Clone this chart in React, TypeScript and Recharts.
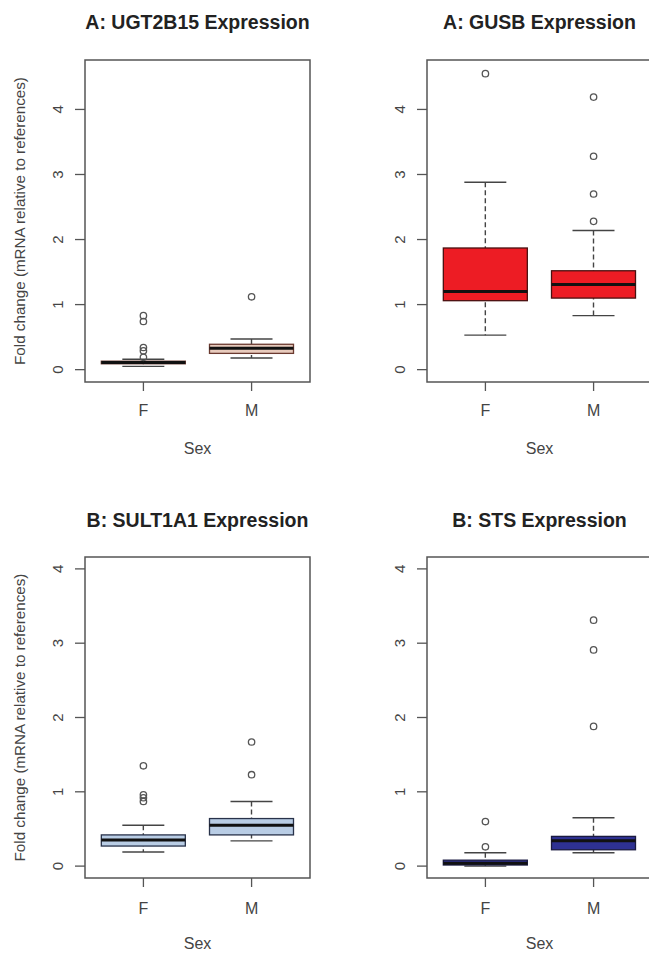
import React from "react";
import { Bar, ComposedChart, ReferenceArea, Scatter, XAxis, YAxis } from "recharts";

const GROUPS = ["F", "M"];

// [lower whisker, Q1, median, Q3, upper whisker]
const UGT2B15_F = [0.05, 0.09, 0.11, 0.13, 0.16];
const UGT2B15_M = [0.18, 0.25, 0.33, 0.39, 0.47];
const UGT2B15_OUT_F = [0.83, 0.74, 0.34, 0.29, 0.19];
const UGT2B15_OUT_M = [1.12];

const GUSB_F = [0.53, 1.06, 1.2, 1.87, 2.88];
const GUSB_M = [0.83, 1.1, 1.31, 1.52, 2.14];
const GUSB_OUT_F = [4.55];
const GUSB_OUT_M = [4.19, 3.28, 2.7, 2.28];

const SULT1A1_F = [0.19, 0.27, 0.35, 0.42, 0.55];
const SULT1A1_M = [0.34, 0.42, 0.55, 0.64, 0.87];
const SULT1A1_OUT_F = [1.35, 0.96, 0.92, 0.87];
const SULT1A1_OUT_M = [1.67, 1.23];

const STS_F = [0.0, 0.015, 0.04, 0.08, 0.18];
const STS_M = [0.18, 0.22, 0.34, 0.4, 0.65];
const STS_OUT_F = [0.6, 0.26];
const STS_OUT_M = [3.31, 2.91, 1.88];

const Y_TICKS = [0, 1, 2, 3, 4];
const X_DOMAIN = [0.46, 2.54];
const FONT = '"Liberation Sans", Arial, sans-serif';
const INK = "#444";

function boxRows(f: number[], m: number[]) {
  return [f, m].map((s, i) => ({ x: i + 1, lo: s[0], q1: s[1], med: s[2], q3: s[3], hi: s[4] }));
}

function outlierRows(f: number[], m: number[]) {
  return [...f.map((y) => ({ x: 1, y })), ...m.map((y) => ({ x: 2, y }))];
}

function Whisker(props: any) {
  const { x, y, width, height } = props;
  const top = Math.min(y, y + height);
  const bottom = Math.max(y, y + height);
  const cx = x + width / 2;
  const cap = width / 4;
  return (
    <g stroke={INK} strokeWidth={1.4}>
      <line x1={cx} x2={cx} y1={top} y2={bottom} strokeDasharray="5 3" />
      <line x1={cx - cap} x2={cx + cap} y1={top} y2={top} />
      <line x1={cx - cap} x2={cx + cap} y1={bottom} y2={bottom} />
    </g>
  );
}

function makeBox(fill: string, stroke: string) {
  return (props: any) => {
    const { x, y, width, height } = props;
    const top = Math.min(y, y + height);
    return (
      <rect x={x} y={top} width={width} height={Math.abs(height)} fill={fill} stroke={stroke} strokeWidth={1.3} />
    );
  };
}

function MedianLine(props: any) {
  const { x, y, width, height } = props;
  const top = Math.min(y, y + height);
  return <line x1={x} x2={x + width} y1={top} y2={top} stroke="#111" strokeWidth={3} />;
}

function Ring(props: any) {
  return <circle cx={props.cx} cy={props.cy} r={3.2} fill="none" stroke="#555" strokeWidth={1.3} />;
}

function YTick(props: any) {
  const { x, y, payload } = props;
  const bx = x - 10;
  return (
    <text
      x={bx}
      y={y}
      transform={`rotate(-90 ${bx} ${y})`}
      textAnchor="middle"
      fontSize={15}
      fontFamily={FONT}
      fill={INK}
    >
      {payload.value}
    </text>
  );
}

interface PanelProps {
  title: string;
  f: number[];
  m: number[];
  outF: number[];
  outM: number[];
  yDomain: number[];
  fill: string;
  stroke: string;
  left: number;
  top: number;
  width: number;
  height: number;
  marginLeft: number;
  marginTop: number;
  marginRight: number;
  plotBottom: number;
  xAxisHeight: number;
  tickMargin: number;
  sexOffset: number;
  titleTop: number;
  showYLabel: boolean;
}

function Panel(p: PanelProps) {
  const rows = boxRows(p.f, p.m);
  const outliers = outlierRows(p.outF, p.outM);
  const marginBottom = p.height - p.plotBottom - p.xAxisHeight;
  const plotLeft = p.marginLeft + 85;
  const plotWidth = p.width - p.marginRight - plotLeft;
  return (
    <div style={{ position: "absolute", left: p.left, top: p.top, width: p.width, height: p.height }}>
      <div
        style={{
          position: "absolute",
          left: plotLeft - 20,
          width: plotWidth + 40,
          top: p.titleTop,
          textAlign: "center",
          fontFamily: FONT,
          fontWeight: "bold",
          fontSize: 19.5,
          lineHeight: "22px",
          color: "#222",
          whiteSpace: "nowrap",
        }}
      >
        {p.title}
      </div>
      <ComposedChart
        width={p.width}
        height={p.height}
        data={rows}
        barSize={84}
        barGap={-84}
        margin={{ top: p.marginTop, left: p.marginLeft, right: p.marginRight, bottom: marginBottom }}
      >
        <XAxis
          type="number"
          dataKey="x"
          domain={X_DOMAIN}
          allowDataOverflow
          ticks={[1, 2]}
          tickFormatter={(v: number) => GROUPS[v - 1]}
          axisLine={false}
          tickLine={{ stroke: "#555", strokeWidth: 1.3 }}
          tickSize={9}
          tickMargin={p.tickMargin}
          tick={{ fontSize: 16, fill: INK, fontFamily: FONT }}
          height={p.xAxisHeight}
          label={{
            content: (lp: any) => {
              const vb = lp.viewBox || {};
              return (
                <text
                  x={vb.x + vb.width / 2}
                  y={vb.y + p.sexOffset}
                  textAnchor="middle"
                  fontSize={16}
                  fontFamily={FONT}
                  fill={INK}
                >
                  Sex
                </text>
              );
            },
          }}
        />
        <YAxis
          type="number"
          domain={p.yDomain}
          allowDataOverflow
          ticks={Y_TICKS}
          width={85}
          axisLine={false}
          tickLine={{ stroke: "#555", strokeWidth: 1.3 }}
          tickSize={10}
          tick={<YTick />}
          label={
            p.showYLabel
              ? {
                  content: (lp: any) => {
                    const vb = lp.viewBox || {};
                    const lx = vb.x + 25;
                    const ly = vb.y + vb.height / 2;
                    return (
                      <text
                        x={lx}
                        y={ly}
                        transform={`rotate(-90 ${lx} ${ly})`}
                        textAnchor="middle"
                        fontSize={15.2}
                        fontFamily={FONT}
                        fill={INK}
                      >
                        Fold change (mRNA relative to references)
                      </text>
                    );
                  },
                }
              : undefined
          }
        />
        <Bar dataKey={(d: any) => [d.lo, d.hi]} shape={<Whisker />} isAnimationActive={false} />
        <Bar dataKey={(d: any) => [d.q1, d.q3]} shape={makeBox(p.fill, p.stroke)} isAnimationActive={false} />
        <Bar dataKey={(d: any) => [d.q1, d.med]} shape={<MedianLine />} isAnimationActive={false} />
        <Scatter data={outliers} dataKey="y" shape={<Ring />} isAnimationActive={false} />
        <ReferenceArea
          x1={X_DOMAIN[0]}
          x2={X_DOMAIN[1]}
          y1={p.yDomain[0]}
          y2={p.yDomain[1]}
          fill="none"
          stroke="#555"
          strokeWidth={1.5}
          ifOverflow="visible"
        />
      </ComposedChart>
    </div>
  );
}

export default function App() {
  const topDomain = [-0.19, 4.76];
  const bottomDomain = [-0.16, 4.16];
  return (
    <div
      style={{
        position: "absolute",
        left: 0,
        top: 0,
        width: 649,
        height: 953,
        overflow: "hidden",
        background: "#fff",
      }}
    >
      <Panel
        title="A: UGT2B15 Expression"
        f={UGT2B15_F}
        m={UGT2B15_M}
        outF={UGT2B15_OUT_F}
        outM={UGT2B15_OUT_M}
        yDomain={topDomain}
        fill="#e8cbbd"
        stroke="#6b3a30"
        left={0}
        top={0}
        width={324}
        height={476}
        marginLeft={0}
        marginTop={60}
        marginRight={14}
        plotBottom={382}
        xAxisHeight={80}
        tickMargin={14}
        sexOffset={71.5}
        titleTop={11}
        showYLabel
      />
      <Panel
        title="A: GUSB Expression"
        f={GUSB_F}
        m={GUSB_M}
        outF={GUSB_OUT_F}
        outM={GUSB_OUT_M}
        yDomain={topDomain}
        fill="#ed1c24"
        stroke="#4a1010"
        left={324}
        top={0}
        width={330}
        height={476}
        marginLeft={18}
        marginTop={60}
        marginRight={2}
        plotBottom={382}
        xAxisHeight={80}
        tickMargin={14}
        sexOffset={71.5}
        titleTop={11}
        showYLabel={false}
      />
      <Panel
        title="B: SULT1A1 Expression"
        f={SULT1A1_F}
        m={SULT1A1_M}
        outF={SULT1A1_OUT_F}
        outM={SULT1A1_OUT_M}
        yDomain={bottomDomain}
        fill="#b9cde5"
        stroke="#28324a"
        left={0}
        top={476}
        width={324}
        height={477}
        marginLeft={0}
        marginTop={81}
        marginRight={14}
        plotBottom={402}
        xAxisHeight={75}
        tickMargin={16}
        sexOffset={71}
        titleTop={33}
        showYLabel
      />
      <Panel
        title="B: STS Expression"
        f={STS_F}
        m={STS_M}
        outF={STS_OUT_F}
        outM={STS_OUT_M}
        yDomain={bottomDomain}
        fill="#2e3192"
        stroke="#1a1a40"
        left={324}
        top={476}
        width={330}
        height={477}
        marginLeft={18}
        marginTop={81}
        marginRight={2}
        plotBottom={402}
        xAxisHeight={75}
        tickMargin={16}
        sexOffset={71}
        titleTop={33}
        showYLabel={false}
      />
    </div>
  );
}
